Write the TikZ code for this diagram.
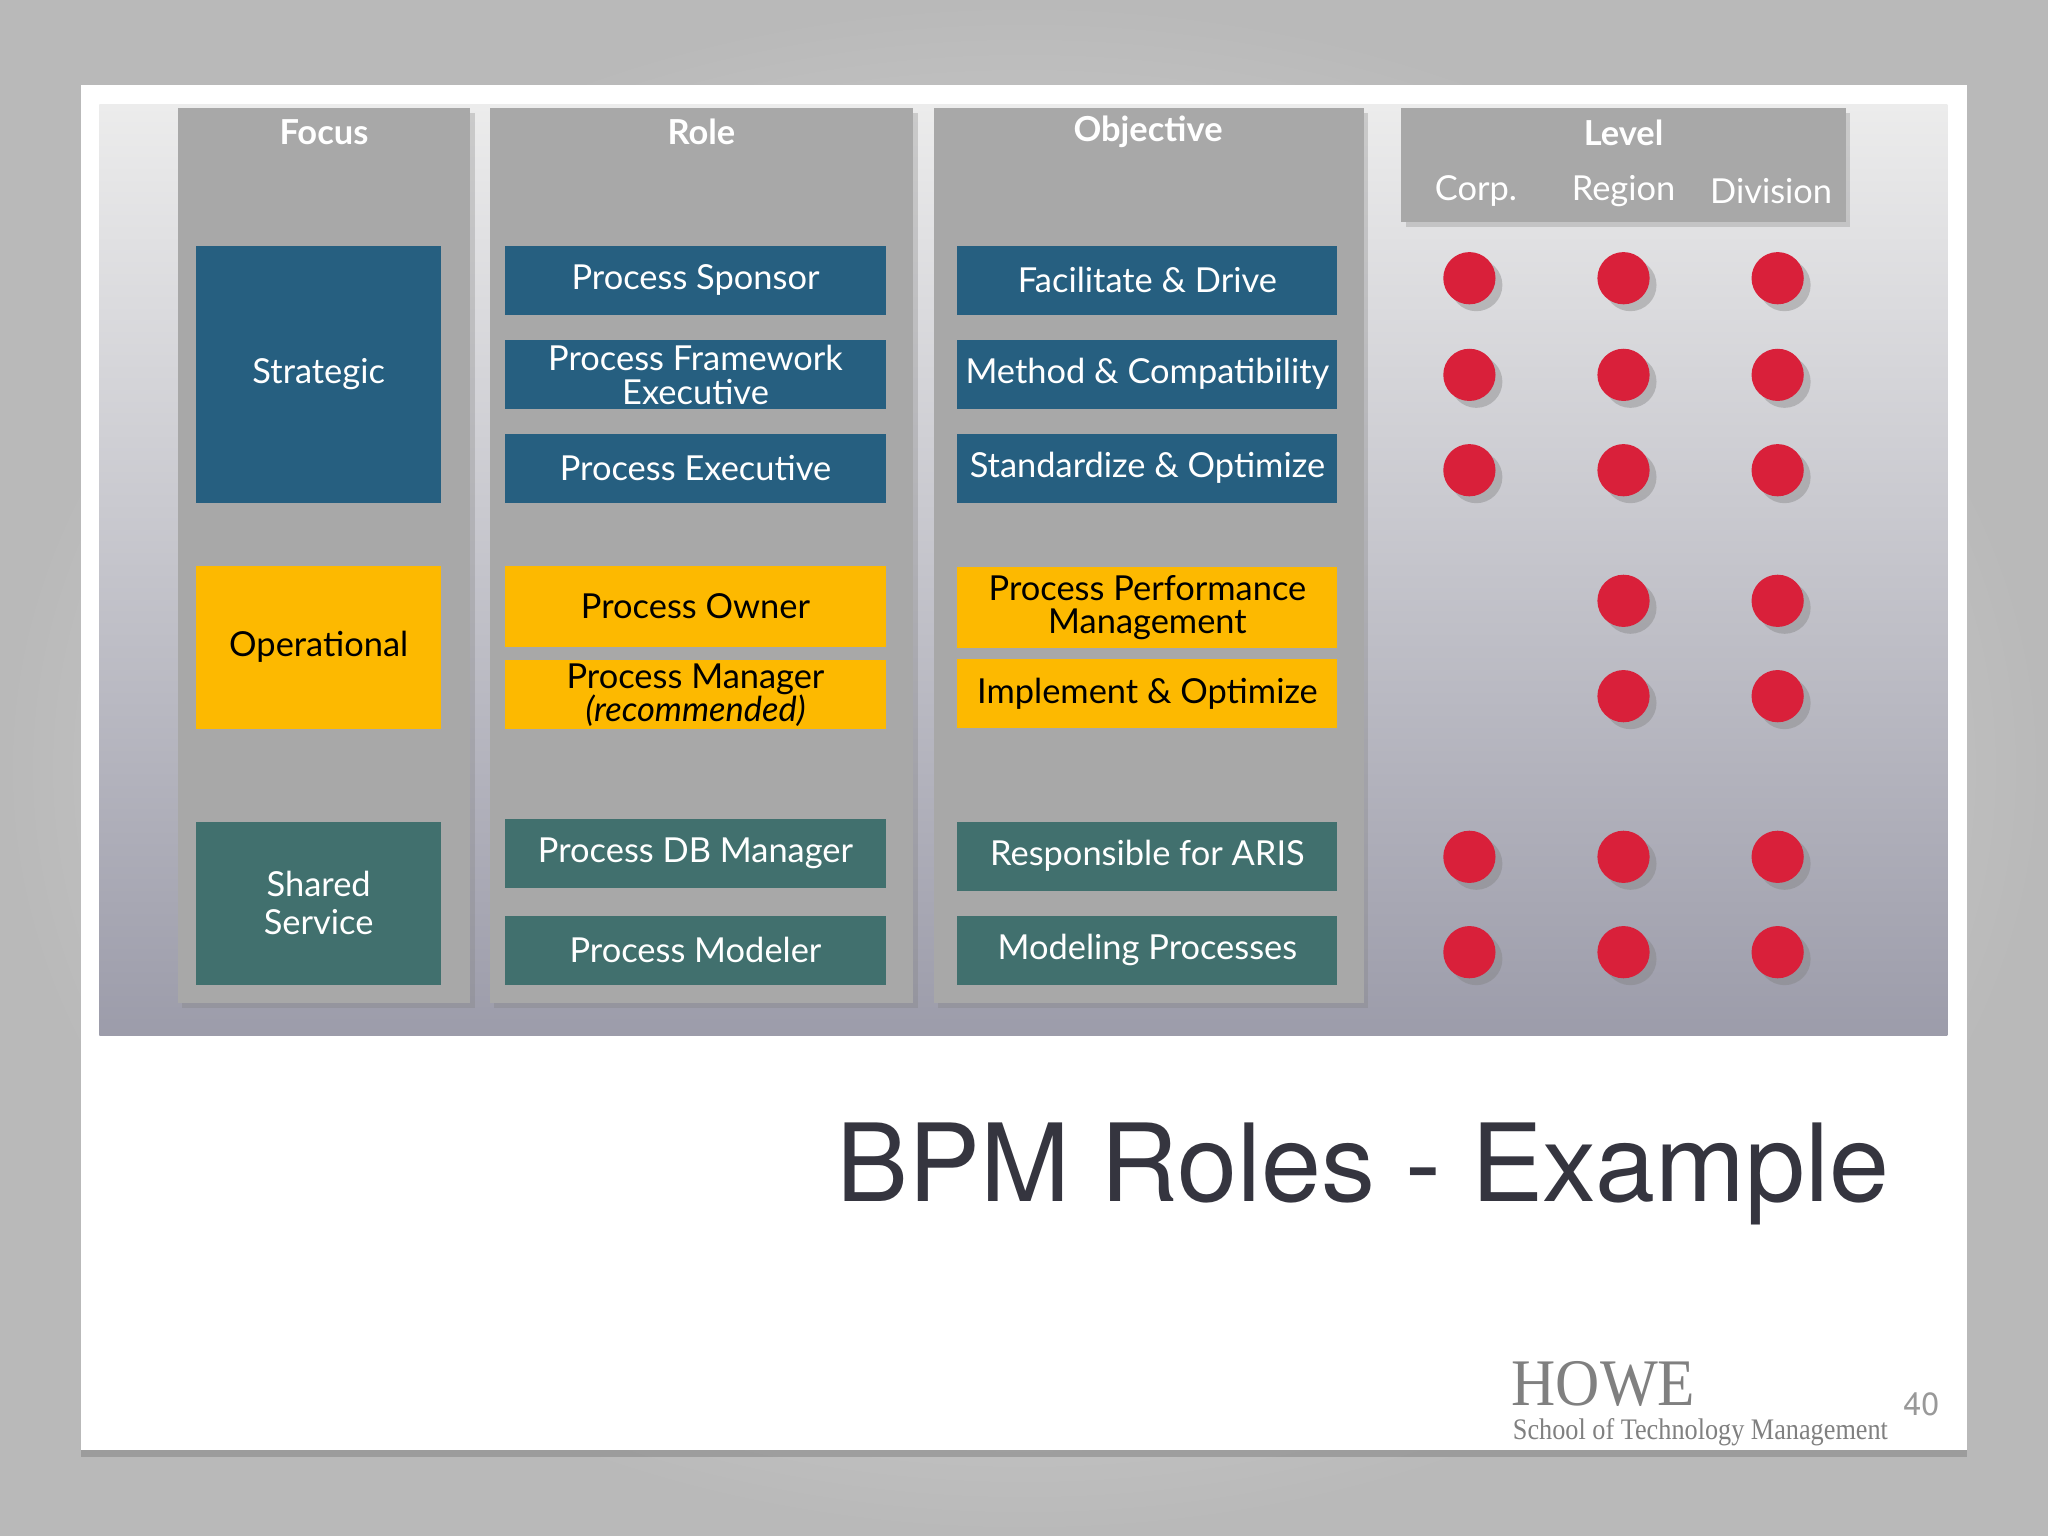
\documentclass[tikz,border=0pt]{standalone}
\usepackage{fontspec}
\setmainfont{Lato}
\newfontfamily\heros{TeX Gyre Heros}
\newfontfamily\lserif{Liberation Serif}
\usetikzlibrary{shadows}
\definecolor{strat}{HTML}{265F80}
\definecolor{oper}{HTML}{FDB900}
\definecolor{shared}{HTML}{41706E}
\definecolor{colg}{HTML}{A8A8A8}
\definecolor{dotc}{HTML}{D9203A}
\definecolor{ptop}{HTML}{ECECEC}
\definecolor{pbot}{HTML}{9C9CAA}
\definecolor{titlec}{HTML}{35353F}
\begin{document}
\begin{tikzpicture}[x=0.02cm,y=-0.02cm,
  box/.style={draw=none,inner sep=0pt,align=center,font=\fontsize{15}{14.5}\selectfont},
  sbox/.style={box,fill=strat,text=white},
  obox/.style={box,fill=oper,text=black},
  gbox/.style={box,fill=shared,text=white},
  col/.style={fill=colg,draw=none,drop shadow={opacity=0.3,shadow xshift=2pt,shadow yshift=-2pt}},
  hdr/.style={text=white,font=\fontsize{15}{15}\selectfont\bfseries},
  dot/.style={circle,fill=dotc,minimum size=0.8cm,inner sep=0pt,drop shadow={opacity=0.4,shadow xshift=3pt,shadow yshift=-3pt}}]
\useasboundingbox (0,0) rectangle (1568,1176);
\shade[outer color=gray!55,inner color=gray!15] (0,0) rectangle (1568,1176);
\fill[white,drop shadow={opacity=0.5,shadow xshift=0pt,shadow yshift=-3pt}] (62,65) rectangle (1506,1110);
\shade[top color=ptop,bottom color=pbot] (76,80) rectangle (1491,793);
% columns
\fill[col] (136,83) rectangle (360,768);
\fill[col] (375,83) rectangle (699,768);
\fill[col] (715,83) rectangle (1044,768);
\fill[col] (1073,83) rectangle (1413,170);
\node[hdr] (hf) at (248,101) {Focus};
\node[hdr] (hr) at (537,101) {Role};
\node[hdr] (ho) at (879,101) {Objective};
\node[hdr] (hl) at (1243,102) {Level};
\node[text=white,font=\fontsize{15}{15}\selectfont] (lc) at (1130,146) {Corp.};
\node[text=white,font=\fontsize{15}{15}\selectfont] (lr) at (1243,146) {Region};
\node[text=white,font=\fontsize{15}{15}\selectfont] (ld) at (1356,146) {Division};
% focus
\node[sbox,minimum width=188*0.02cm,minimum height=197*0.02cm] (fs) at (244,286.5) {Strategic};
\node[obox,minimum width=188*0.02cm,minimum height=125*0.02cm] (fo) at (244,495.5) {Operational};
\node[gbox,minimum width=188*0.02cm,minimum height=125*0.02cm] (fg) at (244,691.5) {Shared\\[2pt]Service};
% role
\tikzset{rw/.style={minimum width=291*0.02cm,minimum height=53*0.02cm}}
\node[sbox,rw] (r1) at (532.5,214.5) {Process Sponsor};
\node[sbox,rw] (r2) at (532.5,287) {Process Framework\\Executive};
\node[sbox,rw] (r3) at (532.5,358.5) {Process Executive};
\node[obox,rw,minimum height=62*0.02cm] (r4) at (532.5,464) {Process Owner};
\node[obox,rw] (r5) at (532.5,532) {Process Manager\\\textit{(recommended)}};
\node[gbox,rw] (r6) at (532.5,653.5) {Process DB Manager};
\node[gbox,rw] (r7) at (532.5,727.5) {Process Modeler};
% objective
\node[sbox,rw] (o1) at (878.5,214.5) {Facilitate \& Drive};
\node[sbox,rw] (o2) at (878.5,286.5) {Method \& Compatibility};
\node[sbox,rw] (o3) at (878.5,358.5) {Standardize \& Optimize};
\node[obox,rw,minimum height=62*0.02cm] (o4) at (878.5,465) {Process Performance\\Management};
\node[obox,rw] (o5) at (878.5,531) {Implement \& Optimize};
\node[gbox,rw] (o6) at (878.5,655.5) {Responsible for ARIS};
\node[gbox,rw] (o7) at (878.5,727.5) {Modeling Processes};
% dots
\foreach \y [count=\i] in {213,287,360,656,729}{
  \node[dot] (dc\i) at (1125,\y) {};
  \node[dot] (dr\i) at (1243,\y) {};
  \node[dot] (dd\i) at (1361,\y) {};}
\foreach \y [count=\i] in {460,533}{
  \node[dot] (er\i) at (1243,\y) {};
  \node[dot] (ed\i) at (1361,\y) {};}
% title
\node[anchor=base east,text=titlec,font=\heros\fontsize{47}{47}\selectfont,inner sep=0pt] (title) at (1447,920) {BPM Roles - Example};
\node[anchor=base west,text=gray,font=\lserif\fontsize{29}{29}\selectfont,inner sep=0pt,xscale=0.92] (howe) at (1157,1076) {HOWE};
\node[anchor=base west,text=gray,font=\lserif\fontsize{13}{13}\selectfont,inner sep=0pt,xscale=0.88] (sch) at (1158,1102) {School of Technology Management};
\node[text=gray!80,font=\heros\fontsize{14}{14}\selectfont] (pg) at (1471,1075) {40};
\end{tikzpicture}
\end{document}
